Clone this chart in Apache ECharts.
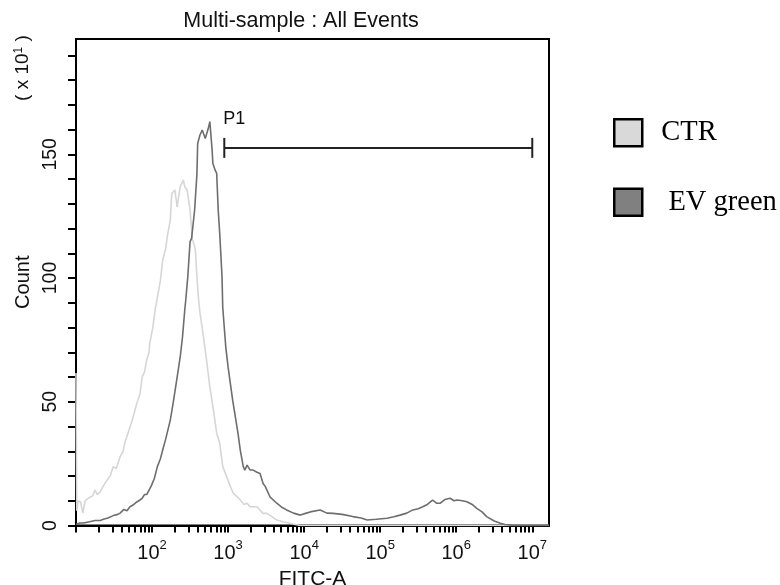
<!DOCTYPE html>
<html>
<head>
<meta charset="utf-8">
<script src="https://cdn.jsdelivr.net/npm/echarts@6/dist/echarts.min.js"></script>
<style>
  html, body { margin: 0; padding: 0; background: #fff; }
  #chart { width: 780px; height: 585px; }
</style>
</head>
<body>
<div id="chart"></div>
<script>
// FITC-A channel, in decades (log10 of intensity)
const fitcCtr = [1.00, 1.01, 1.03, 1.06, 1.09, 1.12, 1.16, 1.18, 1.22, 1.25, 1.28, 1.32, 1.36, 1.41, 1.45,
    1.49, 1.53, 1.58, 1.62, 1.64, 1.68, 1.74, 1.77, 1.80, 1.84, 1.87, 1.90, 1.93, 1.96, 1.97,
    2.01, 2.04, 2.08, 2.11, 2.14, 2.18, 2.20, 2.24, 2.26, 2.30, 2.33, 2.37, 2.41, 2.43, 2.46,
    2.50, 2.53, 2.55, 2.57, 2.59, 2.61, 2.63, 2.67, 2.72, 2.76, 2.81, 2.85, 2.89, 2.93, 2.99,
    3.03, 3.07, 3.12, 3.16, 3.21, 3.25, 3.29, 3.33, 3.38, 3.46, 3.51, 3.58, 3.64, 3.72, 3.81,
    3.90, 3.95, 7.22];
const countCtr = [61.6, 6, 10, 9.5, 5, 10, 11, 11.6, 12, 14.3, 12.5, 13.7, 16, 18.4, 20,
    23.8, 23, 27.8, 30, 33.2, 37, 42.6, 46, 49.4, 53, 60, 62, 66.9, 70, 73.6,
    80, 87, 93.8, 99, 107.3, 112, 116.7, 123.4, 134.2, 135.6, 128.8, 136.9, 139.6, 137, 135.6,
    127.5, 115.3, 114, 111.3, 100.5, 92, 86, 77.6, 66, 56, 46, 37.3, 33.2, 23.8, 19,
    15.7, 13, 11.6, 10.3, 8.5, 9, 7.6, 7.6, 7.6, 4.9, 4.9, 3.5, 2.2, 1.5, 0.9,
    0.3, 0, 0];

const fitcEv = [1.00, 1.05, 1.10, 1.18, 1.25, 1.32, 1.36, 1.42, 1.49, 1.55, 1.58, 1.63, 1.67, 1.71, 1.76,
    1.80, 1.84, 1.87, 1.90, 1.93, 1.95, 1.99, 2.03, 2.07, 2.11, 2.14, 2.18, 2.24, 2.28, 2.33,
    2.37, 2.40, 2.43, 2.44, 2.47, 2.50, 2.52, 2.54, 2.56, 2.59, 2.60, 2.63, 2.66, 2.70, 2.74,
    2.76, 2.79, 2.80, 2.83, 2.85, 2.87, 2.89, 2.92, 2.93, 2.97, 3.00, 3.06, 3.13, 3.16, 3.20,
    3.22, 3.25, 3.29, 3.33, 3.38, 3.42, 3.46, 3.49, 3.55, 3.64, 3.70, 3.77, 3.86, 3.95, 4.03,
    4.08, 4.21, 4.30, 4.38, 4.50, 4.64, 4.75, 4.83, 4.95, 5.09, 5.18, 5.26, 5.35, 5.43, 5.50,
    5.56, 5.62, 5.69, 5.74, 5.79, 5.85, 5.92, 5.97, 6.01, 6.08, 6.14, 6.21, 6.27, 6.34, 6.40,
    6.50, 6.58, 6.64, 6.71, 6.75, 7.22];
const countEv = [0.5, 1, 1, 1.5, 2, 2, 2.5, 3, 4, 4.5, 5, 6.5, 6, 7.6, 8.5,
    9.5, 10.3, 11, 12.5, 12.5, 13.7, 16, 19, 23.8, 27, 30.5, 35, 42.6, 50, 60,
    68, 76, 87, 90, 100.5, 114.7, 116, 115.3, 127.5, 142, 154.4, 157.8, 159.8, 156.4, 160.5,
    163.2, 151.7, 146.3, 143.6, 142.3, 127.5, 118, 100.5, 88, 72, 64, 50.7, 37.3, 30.5, 23.8,
    22.4, 24.4, 22.4, 22.4, 21.5, 21, 17, 15.7, 11.6, 9, 7.5, 6.3, 5, 4.2, 5,
    5.5, 6.3, 5, 4.9, 4.5, 3.6, 3, 2.2, 2.5, 2.9, 3.5, 4.2, 5, 6.3, 6.8,
    7.6, 8.5, 10.3, 9, 9, 10.5, 11, 10, 10.3, 10, 9.6, 8.5, 6.9, 5.5, 3.6,
    1.8, 0.9, 0.4, 0.2, 0, 0];

// P1 gate: from ~10^2.95 to 10^7
const gateP1 = [2.95, 7.0];
const gateLevel = 152.6;

const xLabelDecades = [2, 3, 4, 5, 6, 7];
const xTickDecades = [1, 2, 3, 4, 5, 6];
const minorMultipliers = [2, 3, 4, 5, 6, 7, 8, 9];
const yLabelValues = [0, 50, 100, 150];
const yTickValues = [0, 10, 20, 30, 40, 50, 60, 70, 80, 90, 100, 110, 120, 130, 140, 150, 160, 170, 180, 190];

const xTickValues = [];
xTickDecades.forEach(d => {
    xTickValues.push(d);
    minorMultipliers.forEach(m => xTickValues.push(d + Math.log10(m)));
});
xTickValues.push(7);

const pairs = (xs, ys) => xs.map((x, i) => [x, ys[i]]);
const sans = 'Liberation Sans, Arial, sans-serif';

const chart = echarts.init(document.getElementById('chart'));

chart.setOption({
    animation: false,
    backgroundColor: '#fff',
    title: {
        text: 'Multi-sample : All Events',
        left: 296,
        top: 5,
        textAlign: 'center',
        textStyle: {fontFamily: sans, fontSize: 21.5, fontWeight: 'normal', color: '#111'}
    },
    legend: {
        orient: 'vertical',
        left: 608,
        top: 113,
        icon: 'rect',
        itemWidth: 28,
        itemHeight: 27,
        itemGap: 40,
        itemStyle: {borderColor: '#000', borderWidth: 2.5},
        formatter: name => name === 'EV green' ? ' ' + name : name,
        textStyle: {fontFamily: 'Liberation Serif, Times New Roman, serif', fontSize: 28.5, color: '#000', padding: [0, 0, 0, 14]},
        data: [
            {name: 'CTR', itemStyle: {color: '#d9d9d9'}},
            {name: 'EV green', itemStyle: {color: '#808080'}}
        ]
    },
    grid: {
        left: 76, right: 231, top: 39, bottom: 59.5,
        outerBoundsMode: 'none',
        show: true, borderColor: '#000', borderWidth: 2
    },
    xAxis: {
        type: 'value',
        min: 1,
        max: 7.22,
        name: 'FITC-A',
        nameLocation: 'middle',
        nameGap: 42,
        nameTextStyle: {fontFamily: sans, fontSize: 21, color: '#111'},
        axisLine: {lineStyle: {color: '#000', width: 2}},
        axisTick: {length: 7, lineStyle: {color: '#000', width: 2}, customValues: xTickValues},
        splitLine: {show: false},
        axisLabel: {
            customValues: xLabelDecades,
            margin: 13,
            formatter: v => '{b|10}{s|' + Math.round(v) + '}',
            rich: {
                b: {fontFamily: sans, fontSize: 20, color: '#111', verticalAlign: 'bottom', lineHeight: 25},
                s: {fontFamily: sans, fontSize: 13, color: '#111', verticalAlign: 'top', lineHeight: 25}
            }
        }
    },
    yAxis: {
        type: 'value',
        min: 0,
        max: 196.6,
        name: 'Count',
        nameLocation: 'middle',
        nameGap: 42,
        nameRotate: 90,
        nameTextStyle: {fontFamily: sans, fontSize: 20, color: '#111'},
        axisLine: {show: true, lineStyle: {color: '#000', width: 2}},
        axisTick: {show: true, length: 8, lineStyle: {color: '#000', width: 2}, customValues: yTickValues},
        splitLine: {show: false},
        axisLabel: {
            customValues: yLabelValues,
            rotate: 90,
            margin: 15,
            fontFamily: sans,
            fontSize: 19.5,
            color: '#111'
        }
    },
    graphic: [{
        type: 'text',
        x: 23,
        y: 68,
        rotation: Math.PI / 2,
        style: {
            text: '( x 10{s|1} )',
            align: 'center',
            verticalAlign: 'middle',
            font: '19px ' + sans,
            fill: '#111',
            rich: {s: {fontSize: 12, verticalAlign: 'top', lineHeight: 20}}
        }
    }],
    series: [
        {
            name: 'CTR',
            type: 'line',
            data: pairs(fitcCtr, countCtr),
            showSymbol: false,
            color: '#d6d6d6',
            lineStyle: {color: '#d6d6d6', width: 1.6}
        },
        {
            name: 'EV green',
            type: 'line',
            data: pairs(fitcEv, countEv),
            showSymbol: false,
            color: '#6e6e6e',
            lineStyle: {color: '#6e6e6e', width: 1.6}
        },
        {
            name: 'P1',
            type: 'line',
            data: [
                {
                    value: [gateP1[0], gateLevel],
                    label: {
                        show: true, formatter: 'P1', position: 'top', distance: 10, align: 'left', offset: [-1, 0],
                        fontFamily: sans, fontSize: 18, color: '#111'
                    }
                },
                [gateP1[1], gateLevel]
            ],
            symbol: 'rect',
            symbolSize: [2, 20],
            showSymbol: true,
            color: '#222',
            lineStyle: {color: '#222', width: 2}
        }
    ]
});
</script>
</body>
</html>
